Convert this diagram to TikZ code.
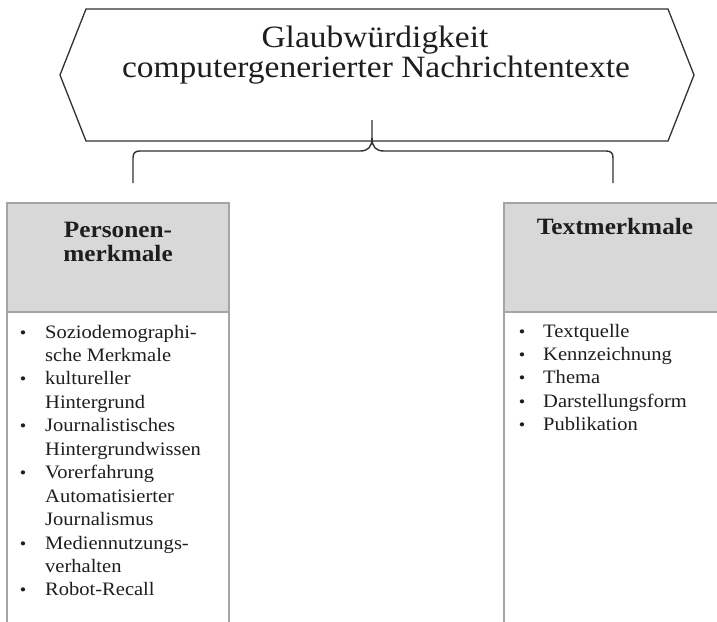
\documentclass[tikz,border=0pt]{standalone}
\usepackage{fontspec}
\setmainfont[FakeStretch=1.08]{Liberation Serif}
\definecolor{boxline}{RGB}{165,165,165}
\definecolor{headfill}{RGB}{216,216,216}
\definecolor{darkline}{RGB}{50,50,50}
\definecolor{txt}{RGB}{30,30,30}
\tikzset{
  titletext/.style={anchor=base, inner sep=0pt, text=txt, font=\fontsize{31}{36}\selectfont},
  headtext/.style={anchor=base, inner sep=0pt, text=txt, font=\fontsize{23.4}{27}\selectfont\bfseries},
  itemtext/.style={anchor=base west, inner sep=0pt, text=txt, font=\fontsize{19}{23}\selectfont},
  bullettext/.style={anchor=base, inner sep=0pt, text=txt, font=\fontsize{17}{23}\selectfont},
  boxframe/.style={draw=boxline, line width=1.5pt},
  headbox/.style={draw=boxline, fill=headfill, line width=1.5pt},
  hexline/.style={draw=darkline, line width=1.3pt, line join=miter},
  braceline/.style={draw=darkline, line width=1.4pt}
}
\begin{document}
\begin{tikzpicture}[x=1pt, y=-1pt]
\clip (0,0) rectangle (717,621);
\fill[white] (0,0) rectangle (717,621);
% title hexagon
\coordinate (hL) at (60,75);
\coordinate (hTL) at (86,9);
\coordinate (hTR) at (668,9);
\coordinate (hR) at (694,75);
\coordinate (hBR) at (668,141);
\coordinate (hBL) at (86,141);
\path[hexline] (hL) -- (hTL) -- (hTR) -- (hR) -- (hBR) -- (hBL) -- cycle;
\node[titletext] (t1) at (375,47) {Glaubwürdigkeit};
\node[titletext] (t2) at (376,77) {computergenerierter Nachrichtentexte};
% brace
\coordinate (bTop) at (372,120);
\coordinate (bL) at (133,183);
\coordinate (bR) at (613,183);
\path[braceline] (bL) -- (133,158) .. controls (133,153) and (135,151) .. (140,151)
  -- (360,151) .. controls (368,151) and (372,147) .. (372,138) -- (bTop);
\path[braceline] (bR) -- (613,158) .. controls (613,153) and (611,151) .. (606,151)
  -- (384,151) .. controls (376,151) and (372,147) .. (372,138);
% left box
\path[boxframe] (7,312) rectangle (229,640);
\path[headbox] (7,203) rectangle (229,312);
\node[headtext] (p1) at (118,237) {Personen-};
\node[headtext] (p2) at (118,261) {merkmale};
% right box
\path[boxframe] (504,312) rectangle (726,640);
\path[headbox] (504,203) rectangle (726,312);
\node[headtext] (tm) at (615,234) {Textmerkmale};
% left items
\foreach \t [count=\i] in {Soziodemographi-, sche Merkmale, kultureller, Hintergrund, Journalistisches, Hintergrundwissen, Vorerfahrung, Automatisierter, Journalismus, Mediennutzungs-, verhalten, Robot-Recall}
  \node[itemtext, name=L\i] at (45,{338+23.45*(\i-1)}) {\t};
\foreach \i in {1,3,5,7,10,12}
  \node[bullettext, name=LB\i] at (23,{338+23.45*(\i-1)}) {\textbullet};
% right items
\foreach \t [count=\i] in {Textquelle, Kennzeichnung, Thema, Darstellungsform, Publikation}
  \node[itemtext, name=R\i] at (543,{337+23.4*(\i-1)}) {\t};
\foreach \i in {1,...,5}
  \node[bullettext, name=RB\i] at (522,{337+23.4*(\i-1)}) {\textbullet};
\end{tikzpicture}
\end{document}
